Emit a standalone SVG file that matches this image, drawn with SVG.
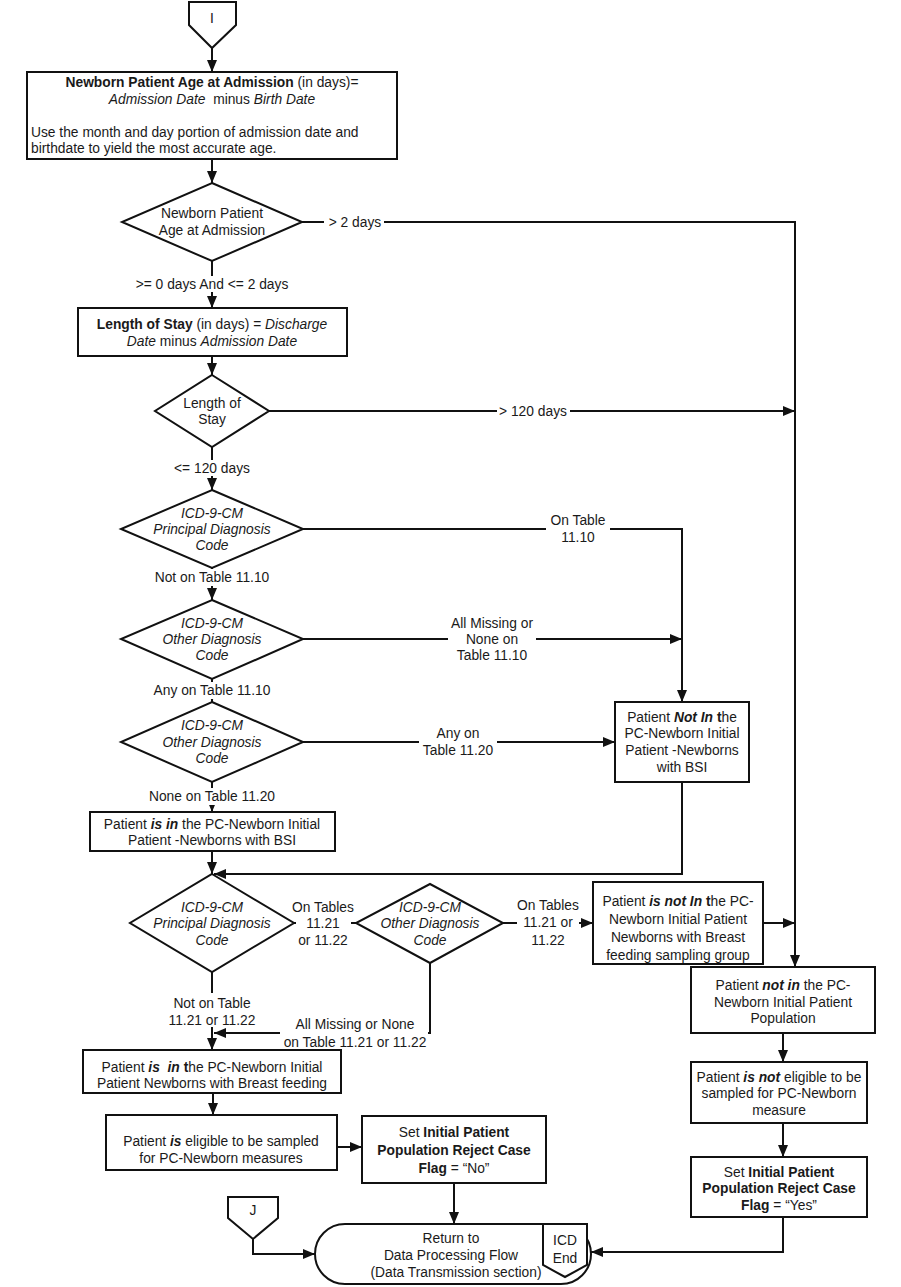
<svg xmlns="http://www.w3.org/2000/svg" width="901" height="1287" viewBox="0 0 901 1287">
<defs>
<marker id="ah" markerUnits="userSpaceOnUse" markerWidth="12" markerHeight="10" refX="12" refY="5" orient="auto">
<path d="M0,0 L12,5 L0,10 z" fill="#111"/>
</marker>
<style>
text{font-family:"Liberation Sans",Arial,sans-serif;font-size:13.8px;fill:#1a1a1a;text-anchor:middle}
.l{text-anchor:start}
.b{font-weight:bold}
.i{font-style:italic}
.bi{font-weight:bold;font-style:italic}
.shape{fill:#fff;stroke:#111;stroke-width:2}
.c{fill:none;stroke:#111;stroke-width:2;marker-end:url(#ah)}
.cn{fill:none;stroke:#111;stroke-width:2}
.bg{fill:#fff;stroke:none}
</style>
</defs>
<rect width="901" height="1287" fill="#fff"/>

<g id="connectors">
<path class="c" d="M212,48 V72"/>
<path class="c" d="M212,159 V183"/>
<path class="c" d="M302,222 H795 V967"/>
<path class="c" d="M212,261 V308"/>
<path class="c" d="M212,356 V375"/>
<path class="c" d="M269,411 H795"/>
<path class="c" d="M212,447 V490"/>
<path class="c" d="M303,529 H682 V702"/>
<path class="c" d="M212,568 V600"/>
<path class="c" d="M303,639 H682"/>
<path class="c" d="M212,679 V702"/>
<path class="c" d="M303,742 H615"/>
<path class="c" d="M212,782 V812"/>
<path class="c" d="M212,851 V874"/>
<path class="c" d="M682,782 V874 H214"/>
<path class="cn" d="M294,923 H356"/>
<path class="c" d="M503,923 H593"/>
<path class="c" d="M763,923 H795"/>
<path class="c" d="M212,972 V1050"/>
<path class="c" d="M430,963 V1033 H214"/>
<path class="c" d="M213,1093 V1115"/>
<path class="c" d="M337,1147 H362"/>
<path class="c" d="M454,1183 V1224"/>
<path class="c" d="M253,1239 V1254 H315"/>
<path class="c" d="M783,1033 V1062"/>
<path class="c" d="M783,1123 V1157"/>
<path class="c" d="M783,1217 V1252 H591"/>

<rect class="bg" x="324" y="214" width="60" height="16"/>
<text x="355" y="227">&gt; 2 days</text>
<rect class="bg" x="132" y="276" width="160" height="16"/>
<text x="212" y="289">&gt;= 0 days And &lt;= 2 days</text>
<rect class="bg" x="497" y="403" width="73" height="16"/>
<text x="533" y="416">&gt; 120 days</text>
<rect class="bg" x="172" y="460" width="80" height="16"/>
<text x="212" y="473">&lt;= 120 days</text>
<rect class="bg" x="546" y="511" width="64" height="34"/>
<text x="578" y="525">On Table</text>
<text x="578" y="542">11.10</text>
<rect class="bg" x="150" y="569" width="124" height="17"/>
<text x="212" y="582">Not on Table 11.10</text>
<rect class="bg" x="448" y="613" width="88" height="52"/>
<text x="492" y="628">All Missing or</text>
<text x="492" y="644">None on</text>
<text x="492" y="660">Table 11.10</text>
<rect class="bg" x="148" y="682" width="128" height="17"/>
<text x="212" y="695">Any on Table 11.10</text>
<rect class="bg" x="419" y="724" width="78" height="34"/>
<text x="458" y="738">Any on</text>
<text x="458" y="755">Table 11.20</text>
<rect class="bg" x="144" y="788" width="136" height="17"/>
<text x="212" y="801">None on Table 11.20</text>
<rect class="bg" x="296" y="897" width="55" height="50"/>
<text x="323" y="912">On Tables</text>
<text x="323" y="928">11.21</text>
<text x="323" y="945">or 11.22</text>
<rect class="bg" x="517" y="896" width="62" height="51"/>
<text x="548" y="910">On Tables</text>
<text x="548" y="927">11.21 or</text>
<text x="548" y="945">11.22</text>
<rect class="bg" x="160" y="993" width="104" height="34"/>
<text x="212" y="1008">Not on Table</text>
<text x="212" y="1025">11.21 or 11.22</text>
<rect class="bg" x="280" y="1015" width="148" height="33"/>
<text x="355" y="1029">All Missing or None</text>
<text x="355" y="1047">on Table 11.21 or 11.22</text>
</g>

<g id="conn-I">
<polygon class="shape" points="189,2 236,2 236,25 212,48 189,25"/>
<text x="212" y="23">I</text>
</g>

<g id="box-age">
<rect class="shape" x="27" y="72" width="370" height="87"/>
<text x="212" y="87"><tspan class="b">Newborn Patient Age at Admission</tspan> (in days)=</text>
<text x="212" y="104" xml:space="preserve"><tspan class="i">Admission Date</tspan>  minus <tspan class="i">Birth Date</tspan></text>
<text class="l" x="31" y="137">Use the month and day portion of admission date and</text>
<text class="l" x="31" y="153">birthdate to yield the most accurate age.</text>
</g>

<g id="dec-age">
<polygon class="shape" points="212,183 302,222 212,261 122,222"/>
<text x="212" y="218">Newborn Patient</text>
<text x="212" y="235">Age at Admission</text>
</g>

<g id="box-los">
<rect class="shape" x="78" y="308" width="269" height="48"/>
<text x="212" y="329"><tspan class="b">Length of Stay</tspan> (in days) = <tspan class="i">Discharge</tspan></text>
<text x="212" y="346"><tspan class="i">Date</tspan> minus <tspan class="i">Admission Date</tspan></text>
</g>

<g id="dec-los">
<polygon class="shape" points="212,375 269,411 212,447 155,411"/>
<text x="212" y="408">Length of</text>
<text x="212" y="424">Stay</text>
</g>

<g id="dec-pdx1">
<polygon class="shape" points="212,490 303,529 212,568 121,529"/>
<text class="i" x="212" y="518">ICD-9-CM</text>
<text class="i" x="212" y="534">Principal Diagnosis</text>
<text class="i" x="212" y="550">Code</text>
</g>

<g id="dec-odx1">
<polygon class="shape" points="212,600 303,639 212,679 121,639"/>
<text class="i" x="212" y="628">ICD-9-CM</text>
<text class="i" x="212" y="644">Other Diagnosis</text>
<text class="i" x="212" y="660">Code</text>
</g>

<g id="dec-odx2">
<polygon class="shape" points="212,702 303,742 212,782 121,742"/>
<text class="i" x="212" y="730">ICD-9-CM</text>
<text class="i" x="212" y="747">Other Diagnosis</text>
<text class="i" x="212" y="763">Code</text>
</g>

<g id="box-notin-bsi">
<rect class="shape" x="615" y="702" width="134" height="80"/>
<text x="682" y="722">Patient <tspan class="bi">Not In</tspan> <tspan class="b">t</tspan>he</text>
<text x="682" y="738">PC-Newborn Initial</text>
<text x="682" y="755">Patient -Newborns</text>
<text x="682" y="772">with BSI</text>
</g>

<g id="box-in-bsi">
<rect class="shape" x="90" y="812" width="245" height="39"/>
<text x="212" y="829">Patient <tspan class="bi">is in</tspan> the PC-Newborn Initial</text>
<text x="212" y="845">Patient -Newborns with BSI</text>
</g>

<g id="dec-pdx2">
<polygon class="shape" points="212,874 294,923 212,972 130,923"/>
<text class="i" x="212" y="912">ICD-9-CM</text>
<text class="i" x="212" y="928">Principal Diagnosis</text>
<text class="i" x="212" y="945">Code</text>
</g>

<g id="dec-odx3">
<polygon class="shape" points="430,884 503,923 430,963 356,923"/>
<text class="i" x="430" y="912">ICD-9-CM</text>
<text class="i" x="430" y="928">Other Diagnosis</text>
<text class="i" x="430" y="945">Code</text>
</g>

<g id="box-notin-bf">
<rect class="shape" x="593" y="882" width="170" height="82"/>
<text x="678" y="906">Patient <tspan class="bi">is not In</tspan> <tspan class="b">t</tspan>he PC-</text>
<text x="678" y="924">Newborn Initial Patient</text>
<text x="678" y="942">Newborns with Breast</text>
<text x="678" y="960">feeding sampling group</text>
</g>

<g id="box-notin-ipp">
<rect class="shape" x="691" y="967" width="184" height="66"/>
<text x="783" y="990">Patient <tspan class="bi">not in</tspan> the PC-</text>
<text x="783" y="1007">Newborn Initial Patient</text>
<text x="783" y="1023">Population</text>
</g>

<g id="box-not-eligible">
<rect class="shape" x="691" y="1062" width="176" height="61"/>
<text x="779" y="1082">Patient <tspan class="bi">is not</tspan> eligible to be</text>
<text x="779" y="1098">sampled for PC-Newborn</text>
<text x="779" y="1115">measure</text>
</g>

<g id="box-set-yes">
<rect class="shape" x="691" y="1157" width="176" height="60"/>
<text x="779" y="1177">Set <tspan class="b">Initial Patient</tspan></text>
<text class="b" x="779" y="1193">Population Reject Case</text>
<text x="779" y="1210"><tspan class="b">Flag</tspan> = “Yes”</text>
</g>

<g id="box-in-bf">
<rect class="shape" x="83" y="1050" width="258" height="43"/>
<text x="212" y="1072" xml:space="preserve">Patient <tspan class="bi">is  in</tspan> <tspan class="b">t</tspan>he PC-Newborn Initial</text>
<text x="212" y="1088">Patient Newborns with Breast feeding</text>
</g>

<g id="box-eligible">
<rect class="shape" x="106" y="1115" width="231" height="55"/>
<text x="221" y="1146">Patient <tspan class="bi">is</tspan> eligible to be sampled</text>
<text x="221" y="1163">for PC-Newborn measures</text>
</g>

<g id="box-set-no">
<rect class="shape" x="362" y="1116" width="184" height="67"/>
<text x="454" y="1137">Set <tspan class="b">Initial Patient</tspan></text>
<text class="b" x="454" y="1155">Population Reject Case</text>
<text x="454" y="1173"><tspan class="b">Flag</tspan> = “No”</text>
</g>

<g id="conn-J">
<polygon class="shape" points="228,1197 278,1197 278,1218 253,1239 228,1218"/>
<text x="253" y="1215">J</text>
</g>

<g id="term-return">
<rect class="shape" x="315" y="1224" width="276" height="60" rx="30" ry="30"/>
<text x="451" y="1243">Return to</text>
<text x="451" y="1260">Data Processing Flow</text>
<text x="456" y="1277">(Data Transmission section)</text>
</g>

<g id="conn-icd-end">
<polygon class="shape" points="543,1224 587,1224 587,1265 565,1277 543,1265"/>
<text x="565" y="1245">ICD</text>
<text x="565" y="1263">End</text>
</g>
</svg>
